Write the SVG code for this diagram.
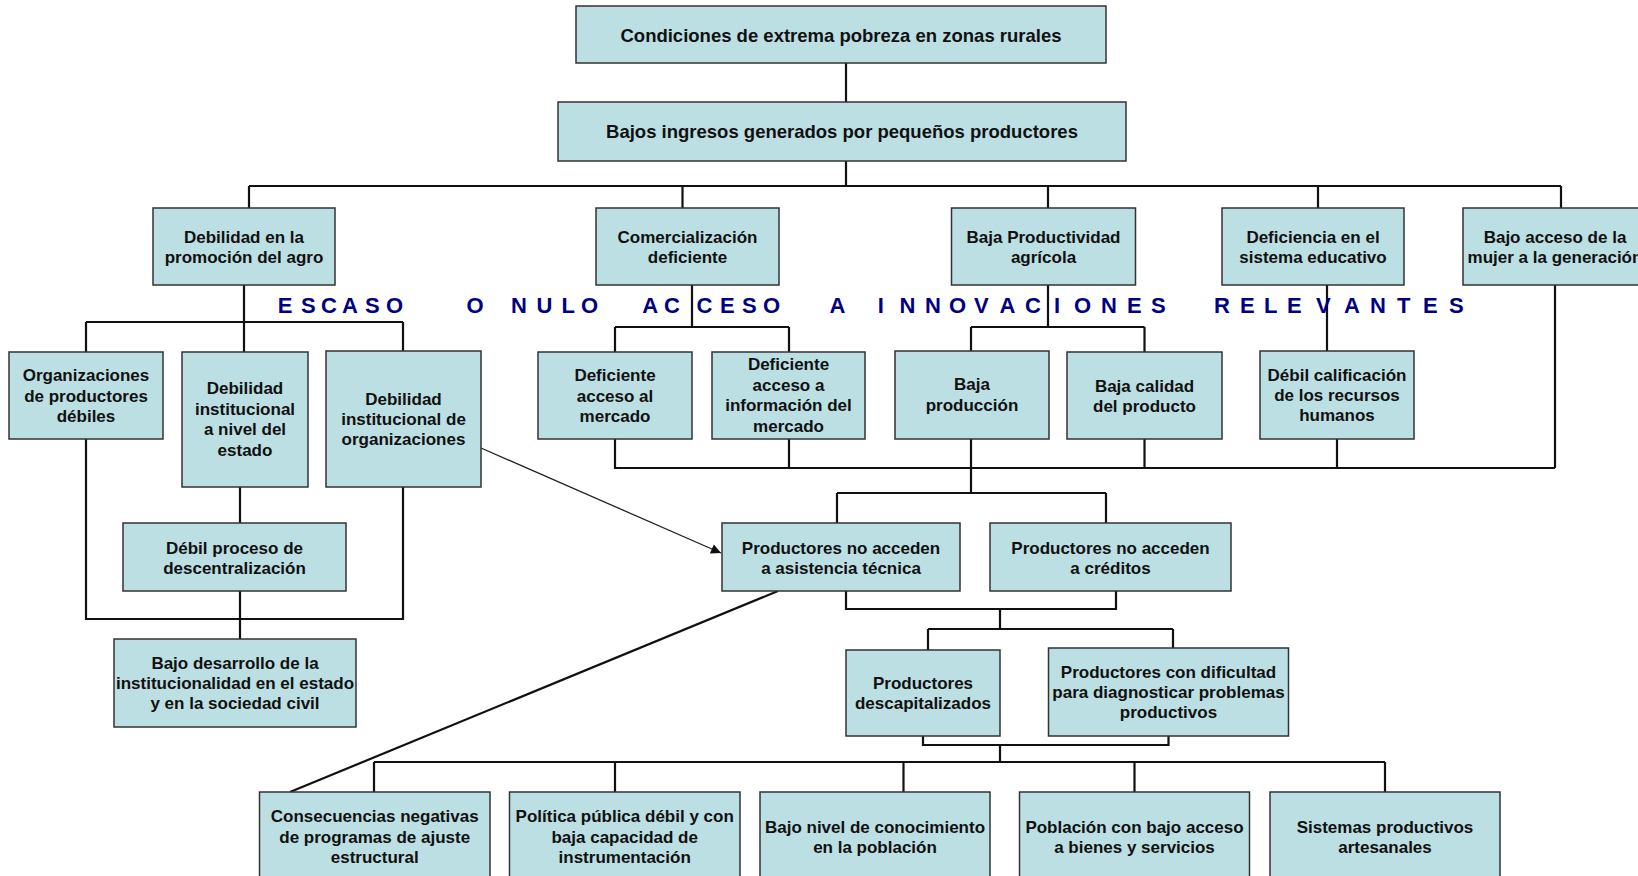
<svg xmlns="http://www.w3.org/2000/svg" width="1638" height="876" viewBox="0 0 1638 876">
<style>
.box{fill:#BBDFE3;stroke:#333;stroke-width:1.5}
.t{font-family:"Liberation Sans",Arial,sans-serif;font-weight:bold;font-size:17px;text-anchor:middle;fill:#111}
.big{font-size:18.5px}
.c{fill:none;stroke:#111;stroke-width:2.2}
.blue{font-family:"Liberation Sans",Arial,sans-serif;font-weight:bold;font-size:22px;fill:#000080}
</style>
<defs>
<marker id="ah" viewBox="0 0 10 10" refX="10" refY="5" markerWidth="12" markerHeight="10" markerUnits="userSpaceOnUse" orient="auto">
<path d="M0,0 L10,5 L0,10 z" fill="#111"/>
</marker>
</defs>
<rect width="1638" height="876" fill="#fff"/>
<g id="connectors">
<path class="c" d="M846,63 V102 M846,161 V186 M249,186 H1561 M249,186 V208 M682.5,186 V208 M1048,186 V208 M1318,186 V208 M1561,186 V208"/>
<path class="c" d="M244,285 V322 M86,322 H403 M86,322 V352 M244,322 V352 M403,322 V351"/>
<path class="c" d="M692,285 V327 M615,327 H789 M615,327 V352 M789,327 V352"/>
<path class="c" d="M1048,285 V327 M971,327 H1144.5 M971,327 V351 M1144.5,327 V352"/>
<path class="c" d="M1327,285 V351 M1555,285 V468"/>
<path class="c" d="M615,439 V468 H1555 M789,439 V468 M1144.5,439 V468 M1337,439 V468 M971,439 V493"/>
<path class="c" d="M837,493 H1106 M837,493 V523 M1106,493 V523"/>
<path class="c" d="M846,591 V609 H1116 V591 M1000,609 V629 M928,629 H1173 M928,629 V650 M1173,629 V648"/>
<path class="c" d="M923,736 V745 H1168.5 V736 M1000,745 V762 M374,762 H1385 M374,762 V792 M615,762 V792 M903.5,762 V792 M1134.5,762 V792 M1385,762 V792"/>
<path class="c" d="M240,487 V523 M240,591 V639 M86,439 V619 H403 V487"/>
<path d="M481,448 L721,553" fill="none" stroke="#222" stroke-width="1.3" marker-end="url(#ah)"/>
<path d="M778,591 L290,792" fill="none" stroke="#111" stroke-width="2.2"/>
</g>
<text class="blue" x="277.7 301 321 342 365 386" y="312.5">ESCASO</text>
<text class="blue" x="466.5" y="312.5">O</text>
<text class="blue" x="511 536.5 561.5 581" y="312.5">NULO</text>
<text class="blue" x="642.3 664 696.5 720 742 763" y="312.5">ACCESO</text>
<text class="blue" x="829.4" y="312.5">A</text>
<text class="blue" x="877.8 899.5 925 949 974 999.5 1025 1054 1074 1101 1127 1151" y="312.5">INNOVACIONES</text>
<text class="blue" x="1214 1240 1264 1287 1316 1344 1370 1397 1423 1449" y="312.5">RELEVANTES</text>
<g id="n1"><rect class="box" x="576" y="6" width="530" height="57"/><text class="t big" x="841" y="42">Condiciones de extrema pobreza en zonas rurales</text></g>
<g id="n2"><rect class="box" x="558" y="102" width="568" height="59"/><text class="t big" x="842" y="138">Bajos ingresos generados por pequeños productores</text></g>
<g id="n3"><rect class="box" x="153" y="208" width="182" height="77"/><text class="t" x="244" y="243">Debilidad en la</text><text class="t" x="244" y="263">promoción del agro</text></g>
<g id="n4"><rect class="box" x="596" y="208" width="183" height="77"/><text class="t" x="687.5" y="243">Comercialización</text><text class="t" x="687.5" y="263">deficiente</text></g>
<g id="n5"><rect class="box" x="951.5" y="208" width="184" height="77"/><text class="t" x="1043.5" y="243">Baja Productividad</text><text class="t" x="1043.5" y="263">agrícola</text></g>
<g id="n6"><rect class="box" x="1222" y="208" width="182" height="77"/><text class="t" x="1313" y="243">Deficiencia en el</text><text class="t" x="1313" y="263">sistema educativo</text></g>
<g id="n7"><rect class="box" x="1463" y="208" width="184" height="77"/><text class="t" x="1555" y="243">Bajo acceso de la</text><text class="t" x="1555" y="263">mujer a la generación</text></g>
<g id="n8"><rect class="box" x="9" y="352" width="154" height="87"/><text class="t" x="86" y="381">Organizaciones</text><text class="t" x="86" y="401.5">de productores</text><text class="t" x="86" y="422">débiles</text></g>
<g id="n9"><rect class="box" x="182" y="352" width="126" height="135"/><text class="t" x="245" y="394">Debilidad</text><text class="t" x="245" y="414.5">institucional</text><text class="t" x="245" y="435">a nivel del</text><text class="t" x="245" y="455.5">estado</text></g>
<g id="n10"><rect class="box" x="326" y="351" width="155" height="136"/><text class="t" x="403.5" y="405">Debilidad</text><text class="t" x="403.5" y="425">institucional de</text><text class="t" x="403.5" y="445">organizaciones</text></g>
<g id="n11"><rect class="box" x="538" y="352" width="154" height="87"/><text class="t" x="615" y="381">Deficiente</text><text class="t" x="615" y="401.5">acceso al</text><text class="t" x="615" y="422">mercado</text></g>
<g id="n12"><rect class="box" x="712" y="352" width="153" height="87"/><text class="t" x="788.5" y="370">Deficiente</text><text class="t" x="788.5" y="390.5">acceso a</text><text class="t" x="788.5" y="411">información del</text><text class="t" x="788.5" y="431.5">mercado</text></g>
<g id="n13"><rect class="box" x="895" y="351" width="154" height="88"/><text class="t" x="972" y="390">Baja</text><text class="t" x="972" y="411">producción</text></g>
<g id="n14"><rect class="box" x="1067" y="352" width="155" height="87"/><text class="t" x="1144.5" y="392">Baja calidad</text><text class="t" x="1144.5" y="412">del producto</text></g>
<g id="n15"><rect class="box" x="1260" y="351" width="154" height="88"/><text class="t" x="1337" y="381">Débil calificación</text><text class="t" x="1337" y="401">de los recursos</text><text class="t" x="1337" y="421">humanos</text></g>
<g id="n16"><rect class="box" x="123" y="523" width="223" height="68"/><text class="t" x="234.5" y="553.5">Débil proceso de</text><text class="t" x="234.5" y="574">descentralización</text></g>
<g id="n17"><rect class="box" x="114" y="639" width="242" height="88"/><text class="t" x="235" y="669">Bajo desarrollo de la</text><text class="t" x="235" y="689">institucionalidad en el estado</text><text class="t" x="235" y="709">y en la sociedad civil</text></g>
<g id="n18"><rect class="box" x="722" y="523" width="238" height="68"/><text class="t" x="841" y="553.5">Productores no acceden</text><text class="t" x="841" y="574">a asistencia técnica</text></g>
<g id="n19"><rect class="box" x="990" y="523" width="241" height="68"/><text class="t" x="1110.5" y="553.5">Productores no acceden</text><text class="t" x="1110.5" y="574">a créditos</text></g>
<g id="n20"><rect class="box" x="846" y="650" width="154" height="86"/><text class="t" x="923" y="688.5">Productores</text><text class="t" x="923" y="708.5">descapitalizados</text></g>
<g id="n21"><rect class="box" x="1048.5" y="648" width="240" height="88"/><text class="t" x="1168.5" y="678">Productores con dificultad</text><text class="t" x="1168.5" y="698">para diagnosticar problemas</text><text class="t" x="1168.5" y="718">productivos</text></g>
<g id="n22"><rect class="box" x="259.5" y="792" width="230.5" height="92"/><text class="t" x="374.7" y="822">Consecuencias negativas</text><text class="t" x="374.7" y="842.5">de programas de ajuste</text><text class="t" x="374.7" y="862.5">estructural</text></g>
<g id="n23"><rect class="box" x="509.5" y="792" width="230.5" height="92"/><text class="t" x="624.7" y="822">Política pública débil y con</text><text class="t" x="624.7" y="842.5">baja capacidad de</text><text class="t" x="624.7" y="862.5">instrumentación</text></g>
<g id="n24"><rect class="box" x="760" y="792" width="230" height="92"/><text class="t" x="875" y="832.5">Bajo nivel de conocimiento</text><text class="t" x="875" y="852.5">en la población</text></g>
<g id="n25"><rect class="box" x="1019.5" y="792" width="230" height="92"/><text class="t" x="1134.5" y="832.5">Población con bajo acceso</text><text class="t" x="1134.5" y="852.5">a bienes y servicios</text></g>
<g id="n26"><rect class="box" x="1270" y="792" width="230" height="92"/><text class="t" x="1385" y="832.5">Sistemas productivos</text><text class="t" x="1385" y="852.5">artesanales</text></g>
</svg>
